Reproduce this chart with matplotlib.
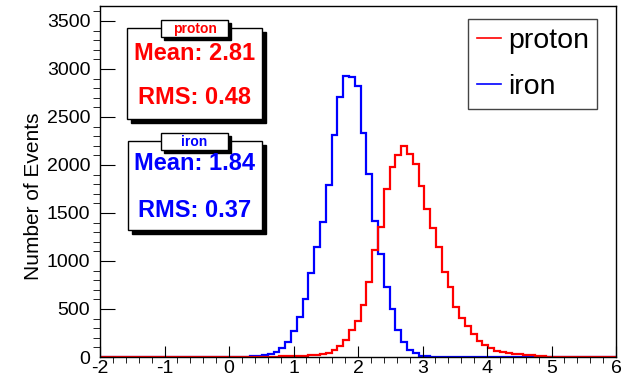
import numpy as np
import matplotlib
matplotlib.use('Agg')
import matplotlib.pyplot as plt
from matplotlib.patches import Rectangle

plt.rcParams['font.family'] = ['Liberation Sans', 'DejaVu Sans']
plt.rcParams['axes.unicode_minus'] = False

# 100 bins from -3 to 6 (bin width 0.09), only -2..6 shown
n_bins = 100
x_lo, x_hi = -3.0, 6.0

# proton counts, starting at bin 40
proton_start = 40
proton_counts = [3, 5, 8, 9, 10, 11, 12, 17, 19, 28,
                 45, 73, 118, 177, 280, 378, 542, 784, 1110, 1357,
                 1750, 1982, 2104, 2198, 2111, 2012, 1781, 1542, 1340, 1146,
                 882, 733, 524, 403, 328, 235, 170, 125, 90, 62,
                 47, 43, 32, 30, 19, 17, 8, 6, 5, 4,
                 3, 3, 2, 2, 2, 3, 4, 3, 2, 1]

# iron counts, starting at bin 37
iron_start = 37
iron_counts = [8, 12, 21, 31, 55, 97, 160, 271, 413, 601,
               878, 1149, 1410, 1790, 2312, 2705, 2930, 2913, 2826, 2330,
               1903, 1417, 1073, 733, 500, 281, 160, 73, 38, 14,
               8, 5, 3, 2, 1, 1]

stats = {
    'proton': ('Mean: 2.81', 'RMS: 0.48'),
    'iron': ('Mean: 1.84', 'RMS: 0.37'),
}
col = {'proton': '#ff0000', 'iron': '#0000ff'}

def full(start, counts):
    h = np.zeros(n_bins)
    h[start:start + len(counts)] = counts
    return h

edges = np.linspace(x_lo, x_hi, n_bins + 1)
h_p = full(proton_start, proton_counts)
h_i = full(iron_start, iron_counts)

W, H = 626, 379
fig = plt.figure(figsize=(W / 100, H / 100), dpi=100)
ax = fig.add_axes([100 / W, 1 - 357 / H, 516 / W, 351 / H])

ax.stairs(h_i, edges, color=col['iron'], lw=1.6, label='iron')
ax.stairs(h_p, edges, color=col['proton'], lw=1.6, label='proton')

ax.set_xlim(-2, 6)
ax.set_ylim(0, 3656)
ax.set_xticks(np.arange(-2, 7, 1))
ax.set_xticks(np.arange(-2, 6.01, 0.2), minor=True)
ax.set_yticks(np.arange(0, 3501, 500))
ax.set_yticks(np.arange(0, 3601, 100), minor=True)
ax.tick_params(direction='in', labelsize=14, top=False, right=False)
ax.tick_params(axis='y', which='major', length=10.5, pad=7)
ax.tick_params(axis='y', which='minor', length=5)
ax.tick_params(axis='x', which='major', length=8, pad=2)
ax.tick_params(axis='x', which='minor', length=4.5)
ax.set_ylabel('Number of Events', fontsize=15)
ax.yaxis.set_label_coords(-0.11, 0.457)
for s in ax.spines.values():
    s.set_linewidth(1.0)

# legend
handles, labels = ax.get_legend_handles_labels()
leg = ax.legend(handles[::-1], labels[::-1], loc='upper left',
                bbox_to_anchor=(468 / W, 1 - 19 / H), bbox_transform=fig.transFigure,
                borderaxespad=0, fontsize=20.5, handlelength=0.85, handletextpad=0.25,
                labelspacing=0.72, borderpad=0.3, fancybox=False, edgecolor='#444444',
                framealpha=1)
leg.get_frame().set_linewidth(1.0)
for line in leg.get_lines():
    line.set_linewidth(1.2)

def pbox(x0, y0, x1, y1, shadow=4, z=5):
    sh = Rectangle((x0 / W + shadow / W, 1 - (y1 + shadow) / H), (x1 - x0) / W, (y1 - y0) / H,
                   transform=fig.transFigure, facecolor='black', edgecolor='black', zorder=z)
    bx = Rectangle((x0 / W, 1 - y1 / H), (x1 - x0) / W, (y1 - y0) / H,
                   transform=fig.transFigure, facecolor='white', edgecolor='black', lw=1.0, zorder=z + 1)
    fig.add_artist(sh)
    fig.add_artist(bx)

# stat boxes
boxes = [('proton', 127, 28, 262, 119, 20, 37, 53, 97),
         ('iron', 128, 141, 262, 230, 133, 150, 164, 210)]
for name, x0, y0, x1, y1, ty0, ty1, ym, yr in boxes:
    pbox(x0, y0, x1, y1, z=5)
    pbox(161, ty0, 228, ty1, shadow=3, z=7)
    fig.text(194.5 / W, 1 - (ty0 + ty1) / 2 / H, name, color=col[name], fontsize=10,
             fontweight='bold', ha='center', va='center', zorder=10)
    fig.text(195 / W, 1 - ym / H, stats[name][0], color=col[name], fontsize=17,
             fontweight='bold', ha='center', va='center', zorder=10)
    fig.text(195 / W, 1 - yr / H, stats[name][1], color=col[name], fontsize=17,
             fontweight='bold', ha='center', va='center', zorder=10)

fig.savefig('out.png', dpi=100)
